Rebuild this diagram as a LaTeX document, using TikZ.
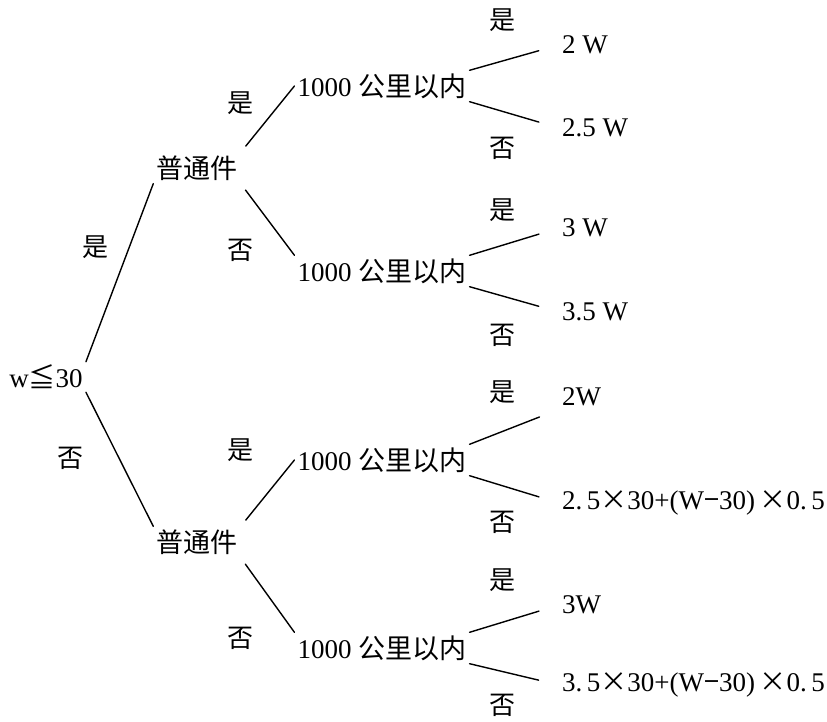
\documentclass[tikz,border=0pt]{standalone}
\usepackage{fontspec}
\setmainfont{Liberation Serif}
\newfontfamily\cjk{Noto Sans CJK SC}
\usepackage{tikz}
\usetikzlibrary{positioning}

\begin{document}
\begin{tikzpicture}[x=1pt,y=-1pt]
	\tikzstyle{txt_all}
	  =[inner sep=3pt, font=\fontsize{27}{32}\selectfont]
	\tikzstyle{txt_node}
	  =[txt_all]
	\tikzstyle{txt_leaf}
	  =[txt_all, anchor=west]
	\tikzstyle{txt_lbl}
	  =[txt_all, font=\fontsize{26}{31}\selectfont\cjk]
	\tikzstyle{edge}
	  =[line width=1.4pt, line cap=round]

	\useasboundingbox (0,0) rectangle (827,722);

	\node[txt_node] (root) at (46,377) {w{\cjk ≦}30};

	\node[txt_node,font=\fontsize{27}{32}\selectfont\cjk] (pt_yes) at (197,168) {普通件};
	\node[txt_node,font=\fontsize{27}{32}\selectfont\cjk] (pt_no) at (197,542) {普通件};

	\node[txt_node] (km_1) at (382,86) {1000 {\cjk 公里以内}};
	\node[txt_node] (km_2) at (382,271) {1000 {\cjk 公里以内}};
	\node[txt_node] (km_3) at (382,460) {1000 {\cjk 公里以内}};
	\node[txt_node] (km_4) at (382,648) {1000 {\cjk 公里以内}};

	\node[txt_leaf] (fee_1) at (559,45) {2 W};
	\node[txt_leaf] (fee_2) at (559,128) {2.5 W};
	\node[txt_leaf] (fee_3) at (559,228) {3 W};
	\node[txt_leaf] (fee_4) at (559,312) {3.5 W};
	\node[txt_leaf] (fee_5) at (559,397) {2W};
	\node[txt_leaf] (fee_6) at (559,503) {2.\,5{\cjk ×}30+(W{\cjk −}30)\,{\cjk ×}0.\,5};
	\node[txt_leaf] (fee_7) at (559,605) {3W};
	\node[txt_leaf] (fee_8) at (559,685) {3.\,5{\cjk ×}30+(W{\cjk −}30)\,{\cjk ×}0.\,5};

	% yes / no labels
	\node[txt_lbl] (lbl_r1) at (95,247) {是};
	\node[txt_lbl] (lbl_r2) at (70,458) {否};
	\node[txt_lbl] (lbl_a1) at (240,103) {是};
	\node[txt_lbl] (lbl_a2) at (240,250) {否};
	\node[txt_lbl] (lbl_b1) at (240,450) {是};
	\node[txt_lbl] (lbl_b2) at (240,638) {否};
	\node[txt_lbl] (lbl_c1) at (502,20) {是};
	\node[txt_lbl] (lbl_c2) at (502,148) {否};
	\node[txt_lbl] (lbl_d1) at (502,210) {是};
	\node[txt_lbl] (lbl_d2) at (502,335) {否};
	\node[txt_lbl] (lbl_e1) at (502,392) {是};
	\node[txt_lbl] (lbl_e2) at (502,522) {否};
	\node[txt_lbl] (lbl_f1) at (502,580) {是};
	\node[txt_lbl] (lbl_f2) at (502,705) {否};

	\draw[edge] (root.north east)--(pt_yes.south west);
	\draw[edge] (root.south east)--(pt_no.north west);

	\draw[edge,shorten <=8pt] (pt_yes.north east)--(km_1.west);
	\draw[edge,shorten <=8pt] (pt_yes.south east)--(km_2.north west);
	\draw[edge,shorten <=8pt] (pt_no.north east)--(km_3.west);
	\draw[edge,shorten <=8pt] (pt_no.south east)--(km_4.north west);

	\draw[edge,shorten >=21pt] (km_1.north east)--(fee_1.west);
	\draw[edge,shorten >=21pt] (km_1.south east)--(fee_2.west);
	\draw[edge,shorten >=21pt] (km_2.north east)--(fee_3.west);
	\draw[edge,shorten >=21pt] (km_2.south east)--(fee_4.west);
	\draw[edge,shorten >=21pt] (km_3.north east)--(fee_5.south west);
	\draw[edge,shorten >=21pt] (km_3.south east)--(fee_6.west);
	\draw[edge,shorten >=21pt] (km_4.north east)--(fee_7.west);
	\draw[edge,shorten >=21pt] (km_4.south east)--(fee_8.west);
\end{tikzpicture}
\end{document}
